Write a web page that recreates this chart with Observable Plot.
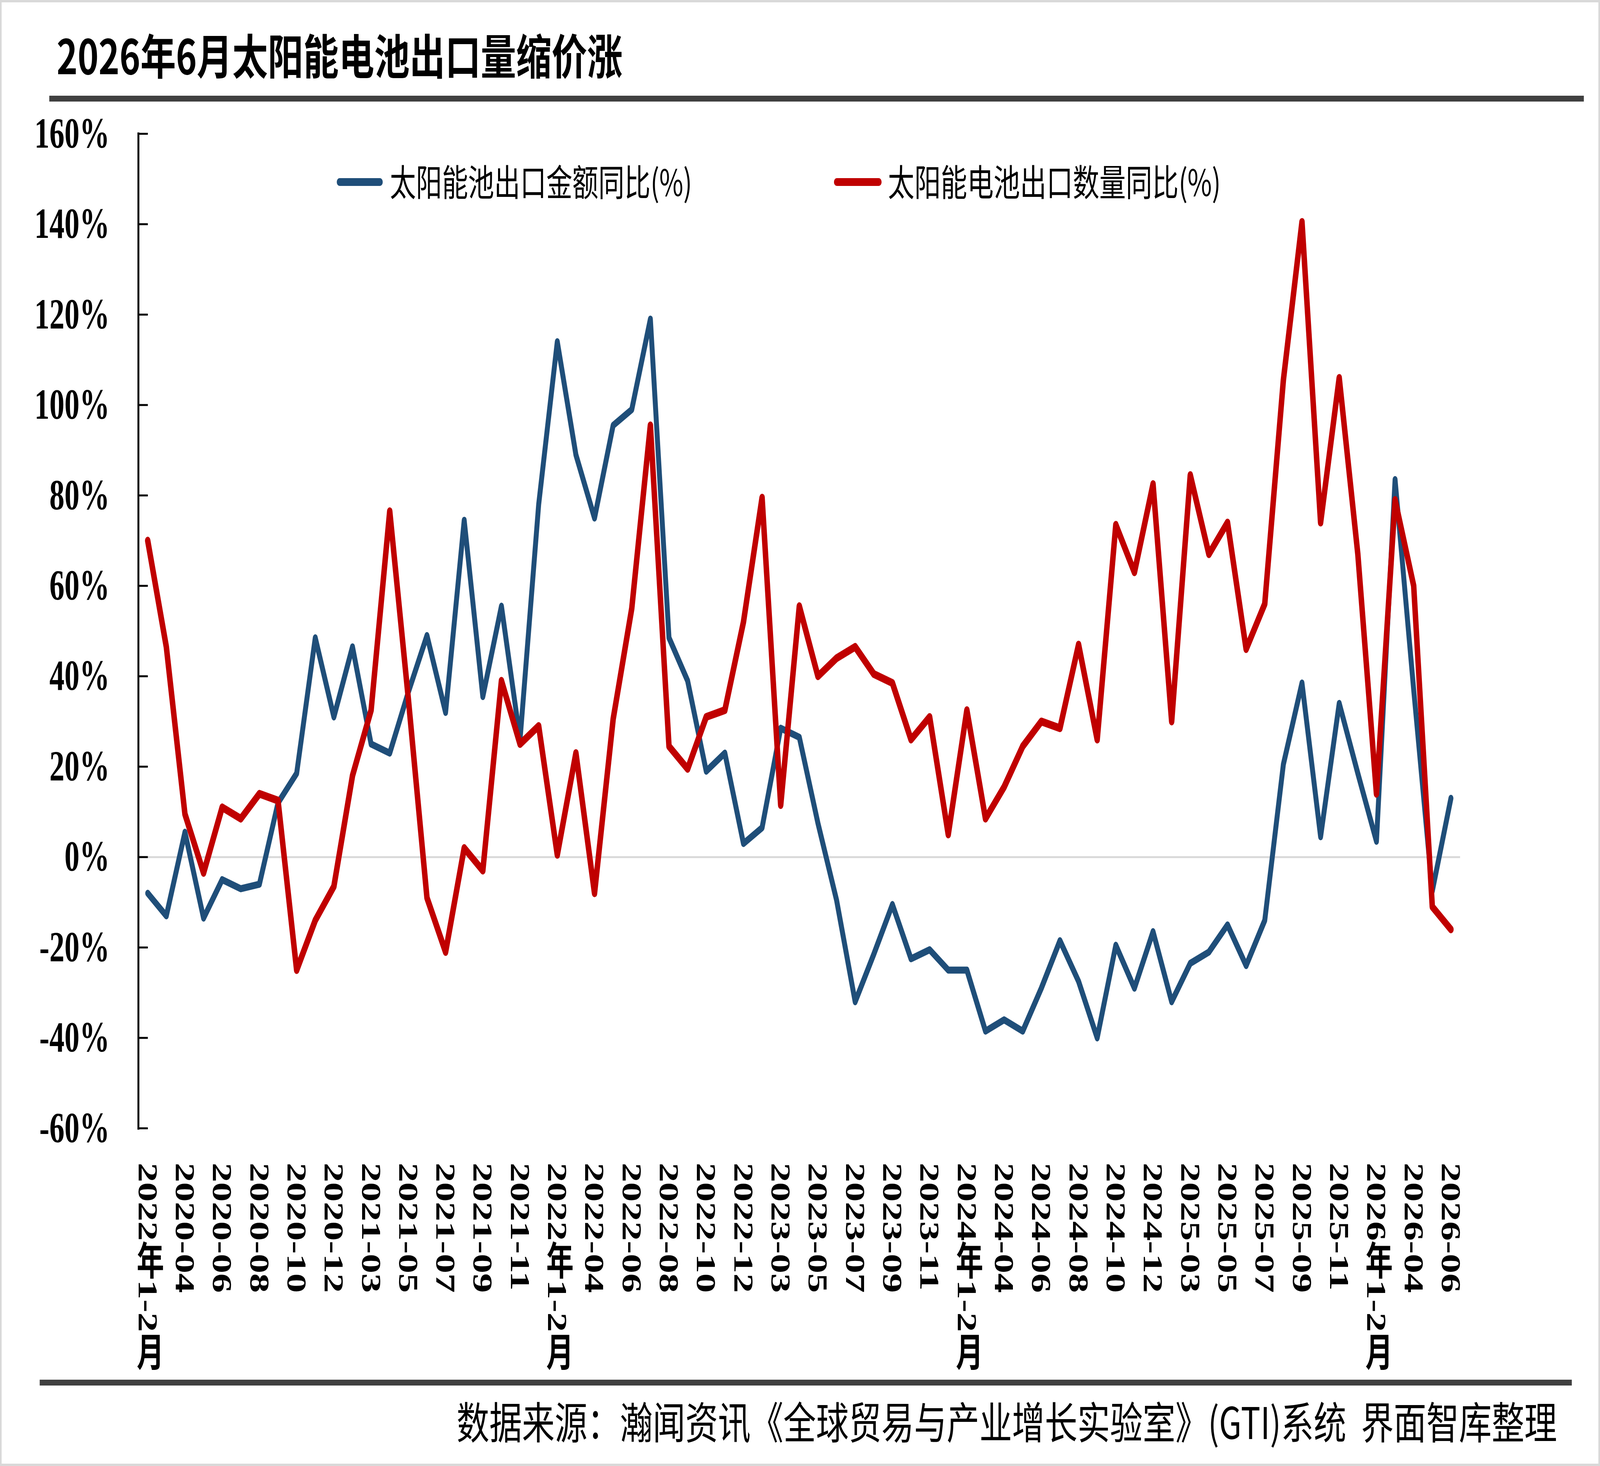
<!DOCTYPE html>
<html>
<head>
<meta charset="utf-8">
<script src="https://cdn.jsdelivr.net/npm/d3@7"></script>
<script src="https://cdn.jsdelivr.net/npm/@observablehq/plot@0.6"></script>
<style>
html, body { margin: 0; padding: 0; background: #fff; }
#page { position: relative; width: 5844px; height: 3753px; overflow: hidden; background: #fff; }
#page > svg { position: absolute; left: 0; top: 0; }
</style>
</head>
<body>
<div id="page"></div>
<script>
// ---- data ----
const titleText = "2026年6月太阳能电池出口量缩价涨";
const seriesNames = ["太阳能池出口金额同比(%)", "太阳能电池出口数量同比(%)"];
const sourceText = "数据来源：瀚闻资讯《全球贸易与产业增长实验室》(GTI)系统  界面智库整理";

// month keys (Jan-Feb combined each year)
const years = [2020, 2021, 2022, 2023, 2024, 2025, 2026];
const months = [];
for (const yr of years) {
  months.push(yr + "-01/02");
  const last = yr === 2026 ? 6 : 12;
  for (let m = 3; m <= last; m++) months.push(yr + "-" + String(m).padStart(2, "0"));
}

// 太阳能池出口金额同比 (%)
const amount = [
  -8, -13, 5.5, -13.5, -5, -7, -6, 12, 18.5, 48.5, 31,
  46.5, 25, 23, 36.5, 49, 32, 74.5, 35.5, 55.5, 26, 78,
  114, 89, 75, 95.5, 99, 119, 48.5, 39, 19, 23, 3,
  6.5, 28.5, 26.5, 7.5, -9.5, -32, -21.5, -10.5, -22.5, -20.5, -25,
  -25, -38.5, -36, -38.5, -29, -18.5, -27.5, -40, -19.5, -29, -16.5,
  -32, -23.5, -21, -15, -24, -14, 20.5, 38.5, 4.5, 34, 18.5,
  3.5, 83.5, 37, -7.5, 13
];
// 太阳能电池出口数量同比 (%)
const quantity = [
  70, 46.5, 9.5, -3.5, 11, 8.5, 14, 12.5, -25, -14, -6.5,
  18, 32.5, 76.5, 35, -9, -21, 2, -3, 39, 25, 29,
  0.5, 23, -8, 30.5, 55, 95.5, 24.5, 19.5, 31, 32.5, 52,
  79.5, 11.5, 55.5, 40, 44, 46.5, 40.5, 38.5, 26, 31, 5,
  32.5, 8.5, 15.5, 24.5, 30, 28.5, 47, 26, 73.5, 63, 82.5,
  30, 84.5, 67, 74, 46, 56, 105.5, 140.5, 74, 106, 67,
  14, 79, 60, -11, -16
];

// x tick labels as printed (every other month)
const tickLabels = [
  "2022年1-2月", "2020-04", "2020-06", "2020-08", "2020-10", "2020-12",
  "2021-03", "2021-05", "2021-07", "2021-09", "2021-11",
  "2022年1-2月", "2022-04", "2022-06", "2022-08", "2022-10", "2022-12",
  "2023-03", "2023-05", "2023-07", "2023-09", "2023-11",
  "2024年1-2月", "2024-04", "2024-06", "2024-08", "2024-10", "2024-12",
  "2025-03", "2025-05", "2025-07", "2025-09", "2025-11",
  "2026年1-2月", "2026-04", "2026-06"
];
const yTicks = [-60, -40, -20, 0, 20, 40, 60, 80, 100, 120, 140, 160];

const BLUE = "#1F4E79";
const RED = "#C00000";

// ---- chart ----
const tickMonths = months.filter((m, i) => i % 2 === 0);
const labelOf = new Map(tickMonths.map((m, i) => [m, tickLabels[i]]));

const serif = "'Liberation Serif', 'Times New Roman', 'Noto Sans CJK SC', serif";

const chart = Plot.plot({
  width: 5844,
  height: 3753,
  marginLeft: 505,
  marginRight: 511,
  marginTop: 342,
  marginBottom: 865,
  style: { background: "transparent", fontFamily: serif, color: "#000", overflow: "visible" },
  x: { type: "point", domain: months, padding: 0.5 },
  y: { domain: [-60, 160] },
  marks: [
    Plot.ruleY([0], { stroke: "#d9d9d9", strokeWidth: 5 }),
    Plot.lineY(amount, { x: months, stroke: BLUE, strokeWidth: 18, strokeLinejoin: "round", strokeLinecap: "round" }),
    Plot.lineY(quantity, { x: months, stroke: RED, strokeWidth: 20, strokeLinejoin: "round", strokeLinecap: "round" }),
    Plot.frame({ anchor: "left", stroke: "#000", strokeWidth: 7 }),
    Plot.axisY({ ticks: yTicks, tickSize: 35, dx: 35, tickFormat: () => "", strokeWidth: 5, label: null }),
    Plot.axisY({ ticks: yTicks, tickSize: 0, tickPadding: 105, tickFormat: d => d + "%", fontSize: 110, fontWeight: "bold", fontFamily: serif, label: null }),
    Plot.axisX({ ticks: tickMonths, tickSize: 0, tickPadding: 88, tickFormat: d => labelOf.get(d), fontSize: 100, fontWeight: "bold", fontFamily: serif, label: null })
  ]
});

// vertical writing for x tick labels (CJK upright, digits sideways)
d3.select(chart).selectAll('g[aria-label="x-axis tick label"] text')
  .attr("y", null).attr("dy", null)
  .attr("text-anchor", "start")
  .style("writing-mode", "vertical-rl");

const page = document.getElementById("page");
page.appendChild(chart);

// ---- annotations (title, rules, legend, footer) ----
const cjk = "'Noto Sans CJK SC', sans-serif";
const svg = d3.select(page).append("svg")
  .attr("width", 5844).attr("height", 3753)
  .attr("viewBox", "0 0 5844 3753");

svg.append("rect").attr("x", 3).attr("y", 3).attr("width", 5838).attr("height", 3747)
  .attr("fill", "none").attr("stroke", "#d9d9d9").attr("stroke-width", 6);

svg.append("text").attr("x", 207).attr("y", 190)
  .attr("font-family", cjk).attr("font-weight", "bold").attr("font-size", 122)
  .attr("textLength", 2067).attr("lengthAdjust", "spacingAndGlyphs")
  .text(titleText);

svg.append("rect").attr("x", 180).attr("y", 245).attr("width", 5605).attr("height", 15).attr("fill", "#404040");
svg.append("rect").attr("x", 145).attr("y", 3532).attr("width", 5596).attr("height", 15).attr("fill", "#404040");

const legend = [
  { name: seriesNames[0], color: BLUE, x1: 1240, x2: 1388, tx: 1424, len: 1104 },
  { name: seriesNames[1], color: RED, x1: 3056, x2: 3210, tx: 3243, len: 1216 }
];
for (const l of legend) {
  svg.append("line").attr("x1", l.x1).attr("x2", l.x2).attr("y1", 466).attr("y2", 466)
    .attr("stroke", l.color).attr("stroke-width", 20).attr("stroke-linecap", "round");
  svg.append("text").attr("x", l.tx).attr("y", 502)
    .attr("font-family", cjk).attr("font-size", 94)
    .attr("textLength", l.len).attr("lengthAdjust", "spacingAndGlyphs")
    .text(l.name);
}

svg.append("text").attr("x", 1668).attr("y", 3684)
  .attr("font-family", cjk).attr("font-size", 112)
  .style("white-space", "pre")
  .attr("textLength", 4019).attr("lengthAdjust", "spacingAndGlyphs")
  .text(sourceText);

// fill the window if it is smaller than the 5844x3753 page
const vw = document.documentElement.clientWidth || window.innerWidth;
const vh = document.documentElement.clientHeight || window.innerHeight;
const sx = Math.min(1, vw > 0 ? vw / 5844 : 1);
const sy = Math.min(1, vh > 0 ? vh / 3753 : 1);
if (sx < 1 || sy < 1) {
  page.style.transformOrigin = "0 0";
  page.style.transform = "scale(" + sx + "," + sy + ")";
  document.body.style.overflow = "hidden";
}
</script>
</body>
</html>
